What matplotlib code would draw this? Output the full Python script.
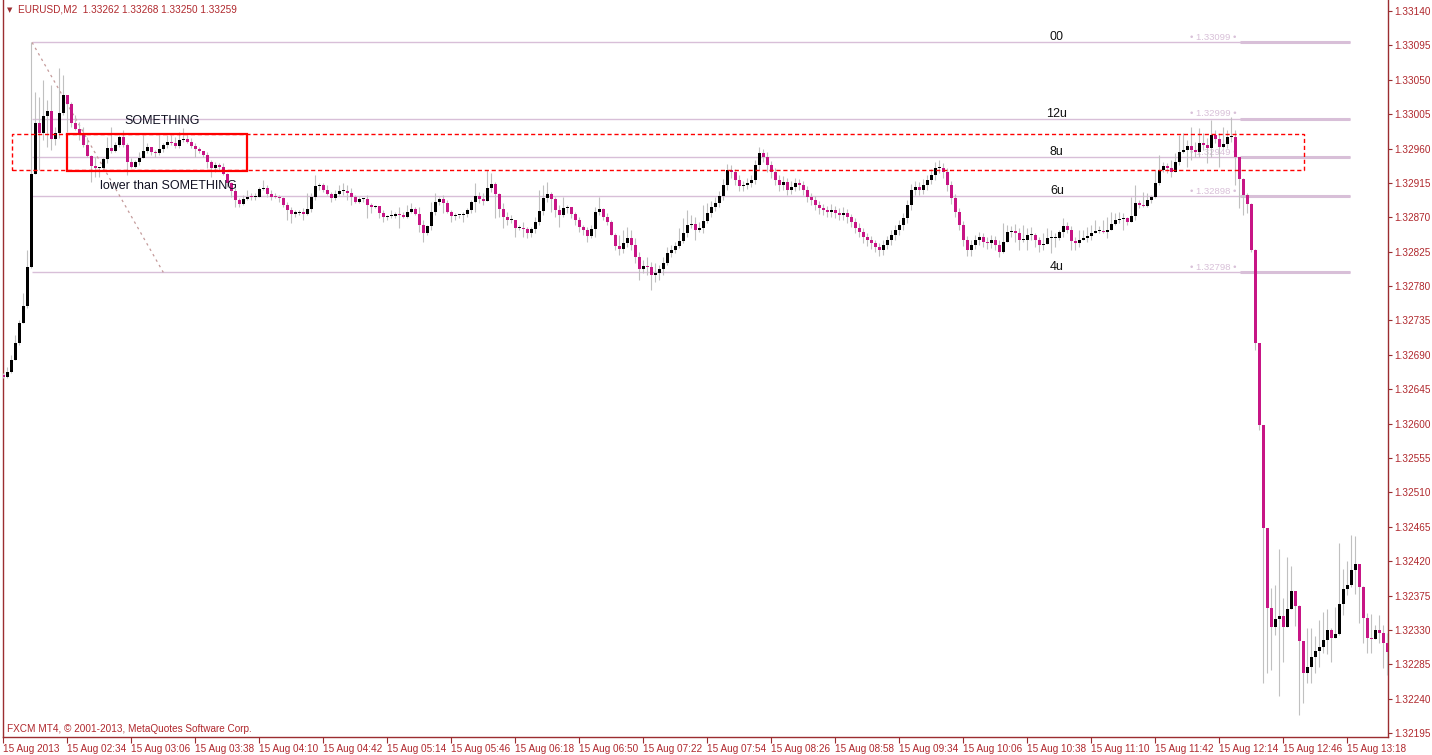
import numpy as np
import matplotlib.pyplot as plt
from matplotlib.patches import Rectangle

# EURUSD M2, values in points above 1.32000 (1 point = 0.00001)
base = 1.32000
first_open_pts = 664

close_pts = [
    661, 667, 683, 705, 732, 754, 805, 927, 993, 981,
    1003, 1009, 973, 980, 1006, 1030, 1019, 994, 986, 979,
    965, 950, 937, 934, 935, 946, 961, 957, 965, 975,
    965, 943, 936, 943, 948, 957, 962, 956, 954, 959,
    965, 969, 967, 964, 971, 973, 969, 964, 959, 957,
    952, 943, 934, 939, 936, 927, 915, 905, 893, 888,
    894, 897, 896, 897, 907, 908, 901, 897, 896, 895,
    886, 879, 875, 876, 877, 875, 881, 897, 911, 912,
    906, 901, 895, 901, 904, 905, 902, 897, 890, 894,
    894, 886, 884, 885, 876, 870, 872, 872, 874, 873,
    871, 877, 881, 875, 860, 850, 859, 877, 890, 894,
    889, 877, 872, 873, 873, 874, 880, 890, 898, 894,
    892, 908, 914, 900, 881, 870, 866, 866, 856, 856,
    855, 850, 855, 864, 878, 895, 901, 894, 880, 873,
    882, 883, 875, 866, 858, 854, 846, 855, 877, 881,
    871, 864, 847, 832, 829, 837, 843, 834, 818, 803,
    806, 805, 794, 797, 802, 810, 823, 827, 832, 839,
    850, 860, 861, 853, 856, 865, 876, 883, 889, 898,
    912, 932, 929, 919, 911, 912, 915, 919, 938, 954,
    949, 938, 929, 919, 912, 916, 906, 910, 915, 912,
    906, 897, 893, 886, 882, 880, 877, 880, 876, 873,
    876, 870, 864, 856, 851, 844, 840, 836, 831, 827,
    834, 840, 847, 853, 860, 869, 886, 906, 910, 906,
    912, 919, 925, 935, 935, 929, 912, 895, 877, 860,
    840, 827, 834, 840, 844, 838, 836, 840, 834, 825,
    838, 851, 852, 849, 840, 840, 847, 847, 840, 834,
    835, 843, 843, 843, 851, 859, 854, 839, 836, 841,
    843, 845, 849, 852, 852, 851, 853, 861, 866, 868,
    869, 864, 872, 889, 886, 885, 893, 897, 915, 932,
    937, 934, 930, 943, 956, 958, 963, 958, 955, 967,
    965, 961, 978, 972, 962, 966, 975, 975, 949, 920,
    899, 888, 827, 706, 598, 463, 359, 334, 344, 348,
    334, 357, 381, 361, 315, 273, 282, 294, 302, 308,
    317, 330, 319, 325, 364, 383, 389, 408, 416, 386,
    345, 320, 318, 330, 326, 313, 301,
]

high_pts = [
    666, 674, 690, 716, 736, 771, 827, 1099, 1034, 1028,
    1050, 1024, 1043, 988, 1065, 1056, 1026, 1021, 1004, 995,
    988, 975, 952, 949, 936, 949, 975, 988, 969, 978,
    984, 967, 948, 945, 956, 978, 967, 962, 958, 978,
    967, 978, 978, 975, 982, 987, 978, 974, 967, 962,
    956, 956, 945, 942, 941, 941, 928, 916, 908, 895,
    899, 906, 902, 902, 910, 919, 912, 906, 902, 899,
    897, 890, 884, 880, 880, 882, 902, 902, 925, 915,
    915, 912, 903, 906, 912, 915, 912, 908, 899, 897,
    895, 899, 889, 886, 882, 880, 873, 880, 877, 884,
    877, 886, 889, 884, 884, 866, 860, 890, 902, 897,
    899, 893, 880, 876, 873, 877, 882, 893, 915, 903,
    902, 932, 928, 916, 902, 889, 877, 873, 866, 860,
    864, 857, 857, 870, 906, 912, 916, 903, 897, 886,
    897, 886, 884, 877, 870, 860, 857, 860, 884, 897,
    882, 876, 866, 849, 847, 853, 857, 853, 843, 825,
    814, 818, 812, 810, 808, 818, 831, 834, 838, 856,
    869, 880, 873, 870, 864, 886, 889, 892, 897, 905,
    920, 940, 938, 933, 925, 918, 922, 926, 945, 962,
    960, 955, 944, 934, 925, 924, 921, 917, 922, 920,
    917, 911, 902, 898, 892, 888, 885, 887, 885, 882,
    883, 881, 875, 869, 862, 856, 850, 846, 841, 836,
    840, 846, 853, 860, 866, 876, 893, 913, 918, 916,
    920, 926, 933, 943, 945, 941, 934, 917, 900, 882,
    865, 846, 841, 847, 851, 850, 844, 847, 845, 840,
    862, 860, 859, 861, 856, 860, 856, 857, 849, 844,
    849, 856, 853, 849, 853, 869, 864, 859, 844, 853,
    853, 857, 860, 866, 859, 866, 870, 877, 876, 877,
    876, 870, 897, 912, 893, 903, 902, 899, 932, 952,
    942, 941, 945, 954, 978, 980, 971, 988, 969, 987,
    980, 974, 997, 984, 980, 988, 984, 1001, 984, 949,
    921, 902, 889, 828, 706, 598, 463, 385, 389, 436,
    372, 425, 413, 381, 363, 315, 332, 332, 322, 343,
    353, 357, 332, 360, 444, 410, 420, 454, 453, 416,
    387, 352, 351, 336, 350, 336, 326,
]

low_pts = [
    660, 660, 666, 683, 703, 732, 751, 804, 928, 932,
    971, 962, 958, 965, 974, 1004, 982, 988, 984, 971,
    962, 949, 916, 923, 923, 932, 941, 954, 956, 962,
    962, 925, 935, 935, 938, 948, 954, 952, 949, 952,
    956, 961, 965, 961, 961, 969, 967, 961, 949, 954,
    949, 935, 923, 929, 932, 925, 910, 897, 884, 884,
    886, 893, 893, 893, 897, 906, 897, 893, 895, 890,
    884, 866, 863, 870, 873, 866, 873, 877, 893, 906,
    903, 899, 890, 893, 899, 899, 893, 886, 889, 889,
    890, 869, 876, 882, 869, 864, 866, 869, 869, 856,
    869, 869, 876, 873, 851, 838, 847, 853, 873, 886,
    876, 876, 864, 866, 869, 864, 870, 876, 877, 889,
    886, 893, 903, 869, 870, 856, 860, 863, 844, 853,
    844, 843, 844, 849, 860, 873, 890, 877, 870, 857,
    870, 876, 869, 860, 851, 847, 838, 843, 844, 873,
    866, 860, 847, 827, 821, 823, 831, 827, 810, 788,
    797, 794, 775, 785, 788, 794, 808, 818, 823, 830,
    836, 844, 856, 840, 851, 849, 863, 870, 878, 884,
    893, 906, 922, 912, 904, 905, 907, 910, 914, 932,
    942, 930, 922, 912, 905, 906, 899, 901, 905, 906,
    899, 890, 886, 879, 875, 873, 870, 871, 869, 866,
    867, 863, 857, 849, 844, 837, 833, 829, 824, 819,
    821, 828, 834, 841, 847, 853, 862, 880, 899, 899,
    900, 906, 913, 919, 928, 922, 905, 888, 870, 853,
    833, 819, 820, 828, 834, 831, 829, 830, 827, 818,
    823, 838, 844, 838, 827, 838, 827, 840, 831, 825,
    827, 840, 823, 831, 840, 844, 849, 827, 827, 831,
    840, 838, 840, 849, 849, 849, 843, 853, 860, 863,
    853, 860, 866, 866, 882, 884, 884, 889, 895, 912,
    929, 928, 923, 929, 938, 954, 936, 945, 949, 949,
    958, 941, 949, 967, 936, 961, 961, 969, 912, 882,
    873, 876, 825, 696, 592, 260, 274, 277, 323, 243,
    288, 334, 357, 335, 219, 234, 260, 260, 274, 281,
    300, 298, 288, 319, 323, 350, 376, 386, 377, 339,
    313, 300, 300, 319, 313, 280, 271,
]

time_labels = ['15 Aug 2013', '15 Aug 02:34', '15 Aug 03:06', '15 Aug 03:38',
               '15 Aug 04:10', '15 Aug 04:42', '15 Aug 05:14', '15 Aug 05:46',
               '15 Aug 06:18', '15 Aug 06:50', '15 Aug 07:22', '15 Aug 07:54',
               '15 Aug 08:26', '15 Aug 08:58', '15 Aug 09:34', '15 Aug 10:06',
               '15 Aug 10:38', '15 Aug 11:10', '15 Aug 11:42', '15 Aug 12:14',
               '15 Aug 12:46', '15 Aug 13:18']
bars_per_label = 16

level_prices = [1.33099, 1.32999, 1.32949, 1.32898, 1.32798]
level_names = ['00', '12u', '8u', '6u', '4u']
price_ticks = np.round(1.33140 - 0.00045 * np.arange(22), 5)

header = 'EURUSD,M2  1.33262 1.33268 1.33250 1.33259'
footer = 'FXCM MT4, \u00a9 2001-2013, MetaQuotes Software Corp.'

# ---- prepare OHLC
close = base + np.array(close_pts) * 1e-5
opn = np.r_[base + first_open_pts * 1e-5, close[:-1]]
high = np.maximum(base + np.array(high_pts) * 1e-5, np.maximum(opn, close))
low = np.minimum(base + np.array(low_pts) * 1e-5, np.minimum(opn, close))
x = np.arange(len(close))

axis_col = '#9B2D30'
text_col = '#B0282D'
bear_col = '#C71585'
lvl_col = '#D8BFD8'
lab_size = 7.2
plt.rcParams['font.family'] = ['Liberation Sans', 'DejaVu Sans']

fig = plt.figure(figsize=(14.32, 7.55), dpi=100)
ax = fig.add_axes([3 / 1432, 18 / 755, 1385 / 1432, 737 / 755])
ax.set_xlim(-0.075, 346.2)
ax.set_ylim(1.321898, 1.331545)

# level lines (fibo-like object)
ax.hlines(level_prices, 7.2, 336.7, color=lvl_col, lw=1, zorder=1)
ax.hlines(level_prices, 309.2, 336.7, color=lvl_col, lw=2.2, zorder=1)
ax.plot([7.2, 40], [level_prices[0], level_prices[-1]], color='#C49A9A',
        lw=0.9, ls=(0, (2, 3)), zorder=1)
for p, name in zip(level_prices, level_names):
    ax.annotate(name, (263.4, p), xytext=(0, -0.6), textcoords='offset points',
                ha='center', va='bottom', fontsize=9, color='#111111', zorder=2)
    ax.annotate('\u2022 %.5f \u2022' % p, (302.4, p), xytext=(0, 3.5),
                textcoords='offset points', ha='center', va='center',
                fontsize=6.8, color='#D8C0D8', zorder=2)

# rectangles
ax.add_patch(Rectangle((2.2, 1.32932), 323, 0.00047, fill=False, ec='red',
                       lw=1, ls=(0, (3, 2)), zorder=5))
ax.add_patch(Rectangle((15.9, 1.32931), 45, 0.00048, fill=False, ec='red',
                       lw=1.6, zorder=5))
ax.text(39.7, 1.32996, 'SOMETHING', fontsize=9, color='#111122',
        ha='center', va='center', zorder=6)
ax.text(41.3, 1.32911, 'lower than SOMETHING', fontsize=9, color='#111122',
        ha='center', va='center', zorder=6)

# candles
ax.vlines(x, low, high, color='#C0C0C0', lw=0.8, zorder=3)
bull = close >= opn
body_h = np.maximum(np.abs(close - opn), 1.4e-5)
body_b = np.minimum(close, opn)
ax.bar(x, body_h, bottom=body_b, width=0.75,
       color=np.where(bull, 'black', bear_col), lw=0, zorder=4)

# axes styling
ax.spines['top'].set_visible(False)
for s in ['left', 'right', 'bottom']:
    ax.spines[s].set_color(axis_col)
    ax.spines[s].set_linewidth(1)

ax.yaxis.tick_right()
ax.set_yticks(price_ticks)
ax.set_yticklabels(['%.5f' % v for v in price_ticks])
ax.tick_params(axis='y', which='both', direction='out', length=3, width=0.8,
               colors=axis_col, labelcolor=text_col, labelsize=lab_size, pad=1.5)

ax.set_xticks(np.arange(len(time_labels)) * bars_per_label)
ax.set_xticklabels(time_labels, ha='left')
ax.tick_params(axis='x', direction='out', length=4, width=0.8,
               colors=axis_col, labelcolor=text_col, labelsize=lab_size, pad=1)

fig.text(7 / 1432, 1 - 10 / 755, '\u25bc', fontsize=5, color=axis_col,
         ha='left', va='center', family='DejaVu Sans')
fig.text(18 / 1432, 1 - 10 / 755, header, fontsize=lab_size, color=text_col,
         ha='left', va='center')
fig.text(7 / 1432, 1 - 729 / 755, footer, fontsize=lab_size, color=text_col,
         ha='left', va='center')

fig.savefig('out.png', dpi=100)
